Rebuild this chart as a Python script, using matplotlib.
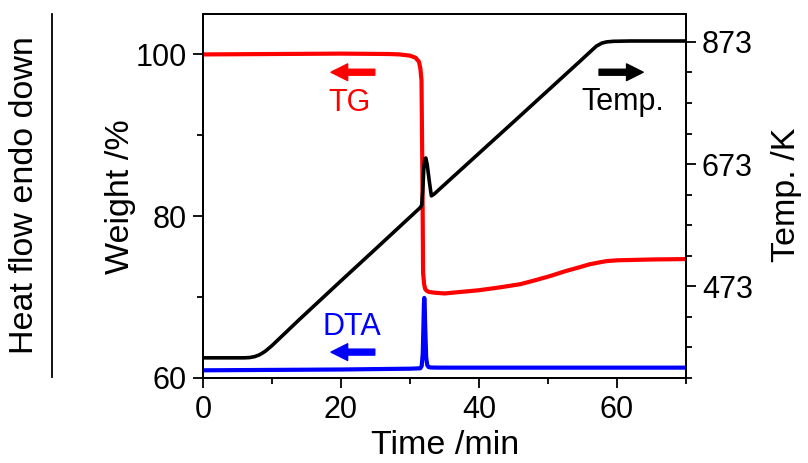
import matplotlib
matplotlib.use("Agg")
import matplotlib.pyplot as plt
from matplotlib.lines import Line2D
from matplotlib.ticker import MultipleLocator, FixedLocator

plt.rcParams["font.family"] = ["Liberation Sans", "DejaVu Sans"]
plt.rcParams["font.size"] = 22

# temperature curve (K)
t_temp = [0, 6.0, 6.8, 7.5, 8.2, 9.0, 10, 14, 20, 25, 31.5, 31.7, 31.85, 32.0,
          32.15, 32.3, 32.5, 32.8, 33.1, 33.5, 37.2, 45, 54.6, 57.0, 57.8, 58.5,
          59.5, 62, 70]
temp = [356, 356, 356.5, 358, 361, 366.5, 376, 419, 482, 534, 602, 606, 630,
        665, 682, 683, 672, 645, 621, 624, 662, 742, 841, 866, 871, 873,
        874, 874.5, 874.5]

# TG curve (weight %)
t_tg = [0, 10, 20, 27, 28.5, 30, 30.8, 31.3, 31.5, 31.67, 31.8, 31.9, 32.05,
        32.2, 32.4, 32.7, 33.5, 35, 40, 43, 46, 48, 50.3, 52.5, 54.6, 56,
        57.5, 58.5, 60, 65, 70]
weight = [100, 100.05, 100.1, 100.05, 100.0, 99.85, 99.6, 99.1, 98.3, 96.8,
          85, 73, 71.6, 71.0, 70.8, 70.65, 70.55, 70.45, 70.85, 71.2, 71.6,
          72.05, 72.6, 73.2, 73.7, 74.05, 74.3, 74.45, 74.55, 74.65, 74.7]

# DTA curve (arbitrary units, shown on weight scale)
t_dta = [0, 10, 20, 30, 31.5, 31.7, 31.85, 31.95, 32.02, 32.07, 32.13, 32.2,
         32.35, 32.5, 32.7, 33.0, 34, 40, 50, 60, 70]
dta = [60.95, 61.0, 61.05, 61.15, 61.2, 61.5, 63.0, 66.5, 69.2, 69.9, 69.2,
       66.5, 62.5, 61.6, 61.35, 61.3, 61.28, 61.28, 61.28, 61.28, 61.28]

fig = plt.figure(figsize=(8.08, 4.63), dpi=100)
ax = fig.add_axes([0.2512, 0.1836, 0.5978, 0.7862])
ax2 = ax.twinx()

ax.plot(t_tg, weight, color="red", lw=3, solid_joinstyle="round")
ax.plot(t_dta, dta, color="blue", lw=3, solid_joinstyle="round")
ax2.plot(t_temp, temp, color="black", lw=2.6, solid_joinstyle="round")

ax.set_xlim(0, 70)
ax.set_ylim(60, 105)
ax2.set_ylim(323, 918.7)

ax.xaxis.set_major_locator(MultipleLocator(20))
ax.xaxis.set_minor_locator(MultipleLocator(10))
ax.yaxis.set_major_locator(FixedLocator([60, 80, 100]))
ax.yaxis.set_minor_locator(FixedLocator([70, 90]))
ax2.yaxis.set_major_locator(FixedLocator([473, 673, 873]))
ax2.yaxis.set_minor_locator(FixedLocator([323, 373, 423, 523, 573, 623, 723, 773, 823, 873]))

for a in (ax, ax2):
    for s in a.spines.values():
        s.set_linewidth(1.3)
    a.tick_params(which="major", direction="out", length=7.5, width=1.3, labelsize=22)
    a.tick_params(which="minor", direction="out", length=4.5, width=1.3)
ax.tick_params(axis="y", which="both", right=False, pad=4)
ax.tick_params(axis="x", which="both", top=False, pad=5)
ax2.tick_params(axis="y", which="both", pad=4)

label_size = 24.5
fig.text(445 / 808, 1 - 446 / 463, "Time /min", fontsize=label_size,
         ha="center", va="center")
fig.text(120 / 808, 1 - 197 / 463, "Weight /%", fontsize=label_size,
         rotation=90, ha="center", va="center")
fig.text(787 / 808, 1 - 195 / 463, "Temp. /K", fontsize=label_size,
         rotation=90, ha="center", va="center")
fig.text(25 / 808, 1 - 195 / 463, "Heat flow endo down", fontsize=label_size,
         rotation=90, ha="center", va="center")
fig.add_artist(Line2D([52 / 808, 52 / 808], [1 - 14 / 463, 1 - 377 / 463],
                      color="black", lw=1.3, transform=fig.transFigure))

arrow_kw = dict(width=4.3, headwidth=12, headlength=12, shrink=0)
ax.annotate("", xy=(18.55, 97.8), xytext=(24.9, 97.8),
            arrowprops=dict(color="red", **arrow_kw))
ax.annotate("", xy=(63.8, 97.8), xytext=(57.4, 97.8),
            arrowprops=dict(color="black", **arrow_kw))
ax.annotate("", xy=(18.55, 63.2), xytext=(24.9, 63.2),
            arrowprops=dict(color="blue", **arrow_kw))

ax.text(21.3, 94.0, "TG", color="red", ha="center", va="center")
ax.text(60.9, 94.1, "Temp.", color="black", ha="center", va="center")
ax.text(21.6, 66.3, "DTA", color="blue", ha="center", va="center")

fig.savefig("out.png", dpi=100)
